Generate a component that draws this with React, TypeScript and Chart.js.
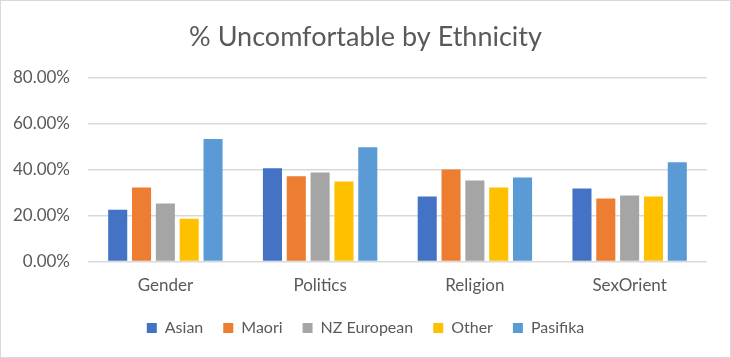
import React, { useEffect, useRef } from "react";
import { Chart, registerables } from "chart.js";

Chart.register(...registerables);

const categories = ["Gender", "Politics", "Religion", "SexOrient"];
const seriesNames = ["Asian", "Maori", "NZ European", "Other", "Pasifika"];
const seriesColors = ["#4472C4", "#ED7D31", "#A5A5A5", "#FFC000", "#5B9BD5"];
const asian = [0.225, 0.405, 0.282, 0.317];
const maori = [0.322, 0.37, 0.4, 0.274];
const nzEuropean = [0.252, 0.387, 0.352, 0.287];
const other = [0.186, 0.348, 0.322, 0.282];
const pasifika = [0.532, 0.497, 0.365, 0.431];
const seriesValues = [asian, maori, nzEuropean, other, pasifika];
const yTicks = [0, 0.2, 0.4, 0.6, 0.8];

const FONT = "Lato, 'Liberation Sans', sans-serif";
const TEXT = "#595959";

export default function App() {
  const ref = useRef<HTMLCanvasElement | null>(null);
  useEffect(() => {
    if (!ref.current) return;
    const borderPlugin = {
      id: "outerBorder",
      afterDraw(chart: any) {
        const c = chart.ctx;
        c.save();
        c.strokeStyle = "#d9d9d9";
        c.lineWidth = 1;
        c.strokeRect(0.5, 0.5, chart.width - 1, chart.height - 1);
        c.restore();
      },
    };
    const chart = new Chart(ref.current, {
      type: "bar",
      data: {
        labels: categories,
        datasets: seriesNames.map((n, i) => ({
          label: n,
          data: seriesValues[i],
          backgroundColor: seriesColors[i],
          borderWidth: 0,
          categoryPercentage: 0.77,
          barPercentage: 0.8,
        })),
      },
      options: {
        animation: false,
        responsive: false,
        maintainAspectRatio: false,
        layout: { padding: { left: 0, right: 0, top: 0, bottom: 12 } },
        plugins: {
          title: {
            display: true,
            text: "% Uncomfortable by Ethnicity",
            color: TEXT,
            font: { family: FONT, size: 27, weight: "normal" },
            padding: { top: 21, bottom: 24 },
          },
          legend: {
            position: "bottom",
            labels: {
              color: TEXT,
              font: { family: FONT, size: 16 },
              boxWidth: 10,
              boxHeight: 10,
              padding: 20,
            },
          },
          tooltip: { enabled: false },
        },
        scales: {
          x: {
            grid: { display: false, drawTicks: false },
            border: { display: false },
            ticks: { color: TEXT, font: { family: FONT, size: 17 }, padding: 14 },
            afterFit(scale: any) {
              scale.height = 38.5;
            },
          },
          y: {
            min: 0,
            max: 0.8,
            afterFit(scale: any) {
              scale.width = 88;
            },
            afterBuildTicks(scale: any) {
              scale.ticks = yTicks.map((v) => ({ value: v }));
            },
            grid: { color: "#d9d9d9", lineWidth: 1.5, drawTicks: false },
            border: { display: false },
            ticks: {
              color: TEXT,
              font: { family: FONT, size: 17 },
              padding: 18,
              callback: (v: any) => (Number(v) * 100).toFixed(2) + "%",
            },
          },
          yRightSpacer: {
            type: "linear",
            position: "right",
            display: true,
            grid: { display: false, drawTicks: false },
            border: { display: false },
            ticks: { display: false },
            afterFit(scale: any) {
              scale.width = 24;
            },
          },
        },
      },
      plugins: [borderPlugin],
    });
    return () => chart.destroy();
  }, []);
  return (
    <div style={{ position: "fixed", left: 0, top: 0, width: 731, height: 358, background: "#fff" }}>
      <canvas ref={ref} width={731} height={358} style={{ width: 731, height: 358 }} />
    </div>
  );
}
